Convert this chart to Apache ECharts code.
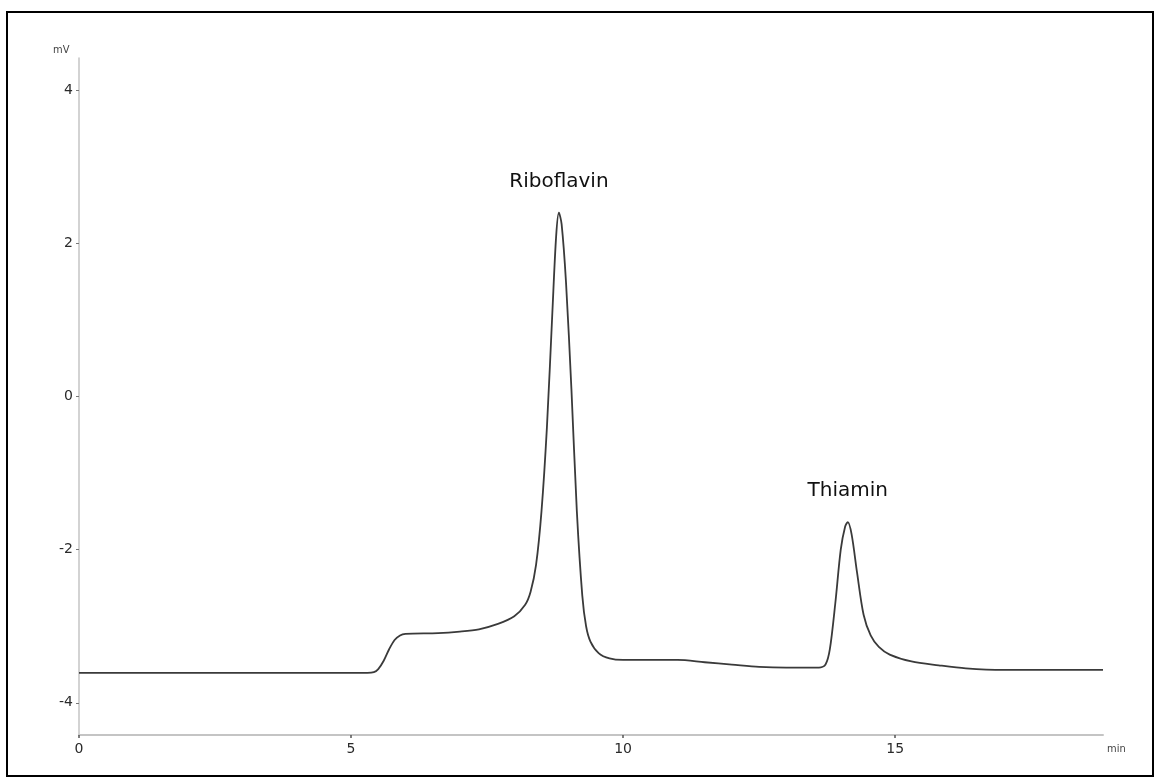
<!DOCTYPE html>
<html>
<head>
<meta charset="utf-8">
<script src="https://cdn.jsdelivr.net/npm/echarts@6/dist/echarts.min.js"></script>
<style>
  html, body { margin: 0; padding: 0; background: #fff; }
  #chart { width: 1160px; height: 783px; }
</style>
</head>
<body>
<div id="chart"></div>
<script>
// retention time (min) and detector signal (mV)
var timeMin = [
  0, 5.3, 5.42, 5.5, 5.6, 5.7, 5.8, 5.9, 6.0, 6.6, 7.0, 7.35, 7.7, 8.0, 8.2, 8.3,
  8.4, 8.5, 8.6, 8.7, 8.77, 8.82, 8.87, 8.95, 9.05, 9.15, 9.25, 9.32, 9.4, 9.55, 9.75,
  10.0, 11.0, 11.5, 12.0, 12.5, 13.0, 13.6, 13.72, 13.8, 13.9, 14.0, 14.08, 14.13,
  14.2, 14.3, 14.42, 14.55, 14.7, 14.9, 15.3, 15.8, 16.3, 17.0, 18.82
];
var signalMv = [
  -3.61, -3.61, -3.6, -3.56, -3.45, -3.3, -3.18, -3.12, -3.1, -3.09, -3.07, -3.04, -2.97, -2.87, -2.72, -2.55,
  -2.2, -1.5, -0.4, 1.1, 2.1, 2.4, 2.25, 1.5, 0.1, -1.5, -2.6, -3.0, -3.2, -3.35, -3.42,
  -3.44, -3.44, -3.47, -3.5, -3.53, -3.54, -3.54, -3.5, -3.3, -2.7, -2.0, -1.7, -1.64,
  -1.8, -2.3, -2.85, -3.12, -3.27, -3.37, -3.46, -3.51, -3.55, -3.57, -3.57
];
// peak names and apex positions
var peakNames = ["Riboflavin", "Thiamin"];
var peakTimes = [8.82, 14.13];
var peakHeights = [2.4, -1.64];
// tick labels
var xTicks = [0, 5, 10, 15];
var yTicks = [-4, -2, 0, 2, 4];

var axisGray = "#c4c4c4";
var textColor = "#2a2a2a";

var lineData = timeMin.map(function(t, i) {
  return [t, signalMv[i]];
});
var peakPoints = peakNames.map(function(n, i) {
  return { name: n, coord: [peakTimes[i], peakHeights[i]] };
});

var chart = echarts.init(document.getElementById("chart"));
chart.setOption({
  animation: false,
  backgroundColor: "#fff",
  grid: {
    left: 79,
    right: 57,
    top: 58,
    bottom: 48
  },
  xAxis: {
    type: "value",
    min: 0,
    max: 18.82,
    splitLine: { show: false },
    axisLine: { onZero: false, lineStyle: { color: axisGray, width: 2 } },
    axisTick: {
      customValues: xTicks,
      length: 3,
      lineStyle: { color: "#555", width: 1.5 }
    },
    axisLabel: {
      customValues: xTicks,
      margin: 7,
      color: textColor,
      fontFamily: "DejaVu Sans",
      fontSize: 14
    }
  },
  yAxis: {
    type: "value",
    min: -4.42,
    max: 4.42,
    splitLine: { show: false },
    axisLine: { show: true, onZero: false, lineStyle: { color: axisGray, width: 1.5 } },
    axisTick: {
      show: true,
      customValues: yTicks,
      length: 3,
      lineStyle: { color: "#777", width: 1 }
    },
    axisLabel: {
      customValues: yTicks,
      margin: 6,
      color: textColor,
      fontFamily: "DejaVu Sans",
      fontSize: 14
    }
  },
  graphic: [
    {
      type: "rect",
      shape: { x: 7, y: 12, width: 1146, height: 764 },
      style: { fill: null, stroke: "#000", lineWidth: 2 },
      silent: true
    },
    {
      type: "text",
      left: 53,
      top: 45,
      style: { text: "mV", fill: "#444", font: "11px 'DejaVu Sans Condensed'" }
    },
    {
      type: "text",
      left: 1107,
      top: 744,
      style: { text: "min", fill: "#444", font: "11px 'DejaVu Sans Condensed'" }
    }
  ],
  series: [
    {
      type: "line",
      data: lineData,
      showSymbol: false,
      smooth: 0.3,
      lineStyle: { color: "#3a3a3a", width: 1.8 },
      markPoint: {
        symbol: "circle",
        symbolSize: 0,
        itemStyle: { color: "transparent" },
        label: {
          show: true,
          position: "top",
          distance: 21,
          formatter: "{b}",
          color: "#111",
          fontFamily: "DejaVu Sans",
          fontSize: 20
        },
        data: peakPoints
      }
    }
  ]
});
</script>
</body>
</html>
